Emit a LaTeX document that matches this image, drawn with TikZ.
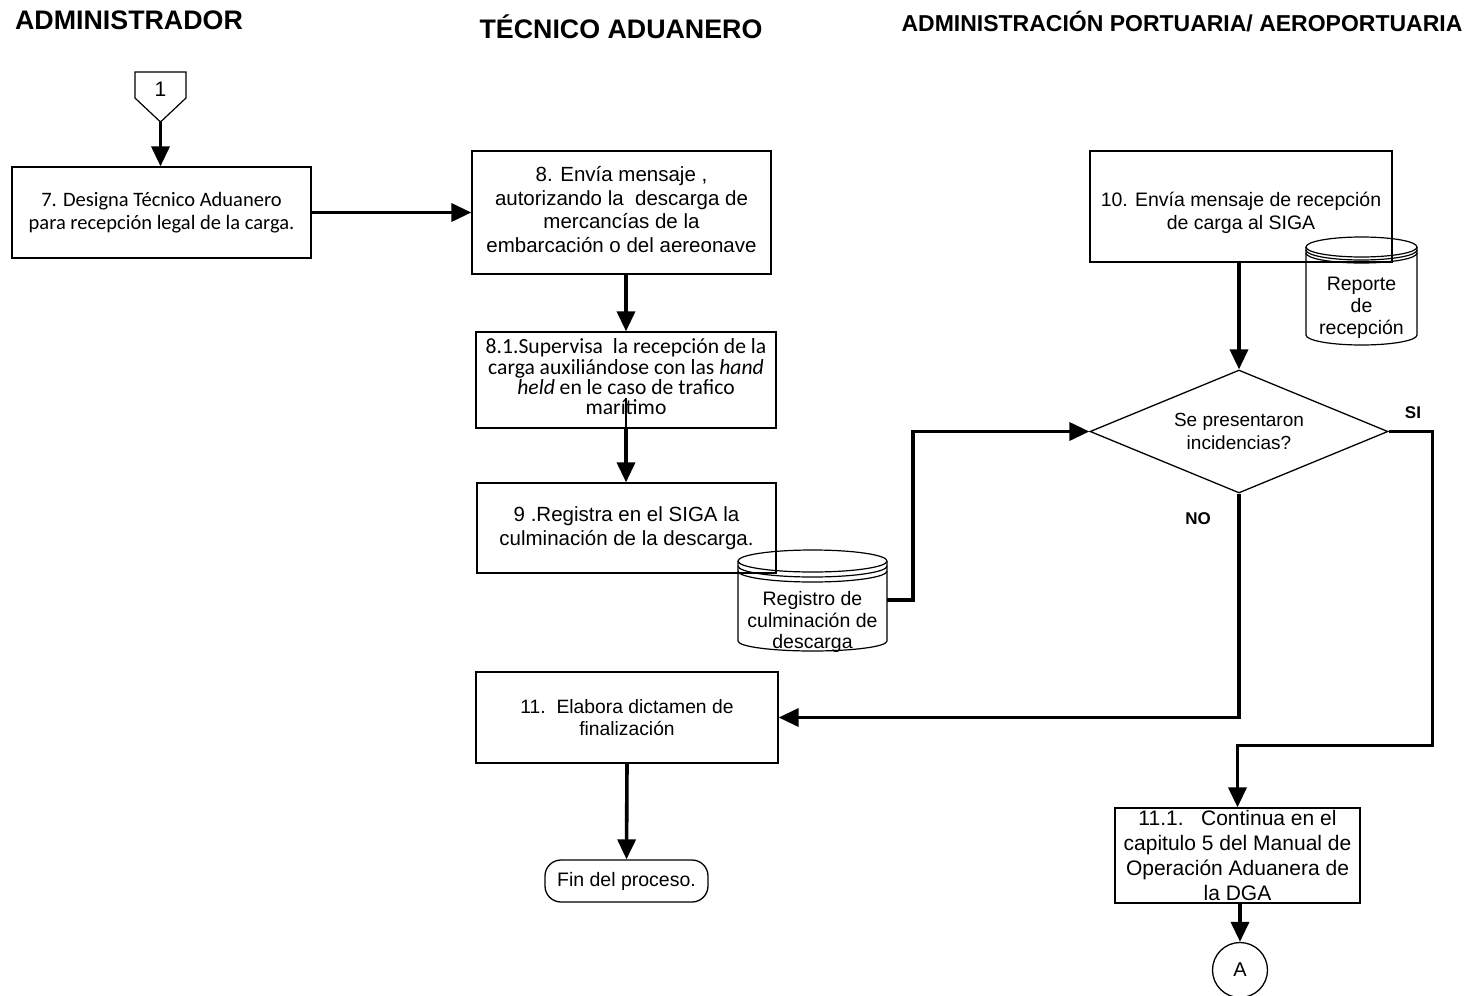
\documentclass[tikz,border=0pt]{standalone}
\usepackage{fontspec}
\setmainfont{Liberation Sans}
\newfontfamily\calib{Carlito}
\usetikzlibrary{arrows.meta,shapes.geometric,calc}
\begin{document}
\begin{tikzpicture}[x=1pt,y=-1pt,
  box/.style={draw,line width=1.3pt,inner sep=0pt,align=center},
  flow/.style={line width=3.6pt,-{Triangle[length=20pt,width=18pt]}},
  fline/.style={line width=3.6pt},
  thinl/.style={line width=1.2pt},
  arf/.style={font=\fontsize{20.5}{23.5}\selectfont},
  cbf/.style={font=\calib\fontsize{20.5}{23.5}\selectfont},
  hdr/.style={font=\bfseries\fontsize{26.8}{30}\selectfont,inner sep=0pt},
  lbl/.style={font=\bfseries\fontsize{17}{20}\selectfont,inner sep=0pt},
  cyltext/.style={inner sep=0pt,align=center,font=\fontsize{19.5}{21.8}\selectfont}
]
\useasboundingbox (0,0) rectangle (1470,996);

% headers
\node[hdr] (h1) at (129,20) {ADMINISTRADOR};
\node[hdr] (h2) at (621,27) {TÉCNICO ADUANERO};
\node[hdr,font=\bfseries\fontsize{23}{26}\selectfont] (h3) at (1182,22) {ADMINISTRACIÓN PORTUARIA/ AEROPORTUARIA};

% off-page connector 1
\draw[thinl] (135,72) -- (186,72) -- (186,98) -- (160.5,122) -- (135,98) -- cycle;
\node[inner sep=0pt,font=\fontsize{21}{24}\selectfont] (c1) at (160.5,89) {1};
\coordinate (c1tip) at (160.5,122);

% boxes
\node[box,cbf,minimum width=299pt,minimum height=91pt] (b7) at (161.5,212.5)
  {\rule{0pt}{6pt}7. Designa Técnico Aduanero\\para recepción legal de la carga.};
\node[box,arf,minimum width=299pt,minimum height=123pt] (b8) at (621.5,212.5)
  {8. Envía mensaje ,\\autorizando la\ \ descarga de\\mercancías de la\\embarcación o del aereonave\\[-17pt]};
\node[box,minimum width=300pt,minimum height=96pt,font=\calib\fontsize{21.6}{20.3}\selectfont] (b81) at (626,380)
  {8.1.Supervisa\ \ la recepción de la\\carga auxiliándose con las \textit{hand}\\\textit{held} en le caso de trafico\\marítimo\\[-14pt]};
\node[box,arf,minimum width=299pt,minimum height=90pt] (b9) at (626.5,528)
  {\rule{0pt}{4pt}9 .Registra en el SIGA la\\culminación de la descarga.};
\node[box,minimum width=302pt,minimum height=111pt] (b10) at (1241,206.5) {};
\node[inner sep=0pt,align=center,font=\fontsize{19.5}{23}\selectfont] (t10) at (1241,212.5)
  {10. Envía mensaje de recepción\\de carga al SIGA};
\node[box,minimum width=302pt,minimum height=91pt,font=\fontsize{19.3}{22.5}\selectfont] (b11) at (627,717.5)
  {11.\ \ Elabora dictamen de\\finalización};
\node[box,minimum width=245pt,minimum height=95pt,font=\fontsize{21}{25}\selectfont] (b111) at (1237.5,855.5)
  {11.1.\ \ \ Continua en el\\capitulo 5 del Manual de\\Operación Aduanera de\\la DGA};

% decision
\node[draw,line width=1.3pt,diamond,aspect=2.42,inner sep=0pt,minimum width=298pt,minimum height=123pt,align=center,font=\fontsize{19}{23}\selectfont] (dia) at (1239,431.5)
  {Se presentaron\\incidencias?};

% terminal
\node[draw,line width=1.3pt,rounded corners=16pt,minimum width=163pt,minimum height=42pt,inner sep=0pt,font=\fontsize{19.5}{23}\selectfont] (fin) at (626.5,881) {Fin del proceso.};

% connector A
\node[draw,line width=1.3pt,circle,minimum size=55pt,inner sep=0pt,font=\fontsize{20}{24}\selectfont] (cA) at (1240,970) {A};

% cylinder: Registro de culminacion de descarga
\node[cyltext,minimum width=149pt] (reg) at (812.5,622) {Registro de\\culminación de\\descarga};
\draw[thinl] (812.5,561) ellipse [x radius=74.5, y radius=11];
\draw[thinl] (738,566) arc[start angle=180,end angle=0,x radius=74.5,y radius=11];
\draw[thinl] (738,571) arc[start angle=180,end angle=0,x radius=74.5,y radius=11];
\draw[thinl] (738,561) -- (738,641) arc[start angle=180,end angle=0,x radius=74.5,y radius=10] -- (887,561);

% cylinder: Reporte de recepcion
\node[cyltext,minimum width=111pt] (rep) at (1361.5,308) {Reporte\\de\\recepción};
\draw[thinl] (1361.5,247) ellipse [x radius=55.5, y radius=10];
\draw[thinl] (1306,250) arc[start angle=180,end angle=0,x radius=55.5,y radius=10];
\draw[thinl] (1306,253) arc[start angle=180,end angle=0,x radius=55.5,y radius=10];
\draw[thinl] (1306,247) -- (1306,335) arc[start angle=180,end angle=0,x radius=55.5,y radius=10] -- (1417,247);

% connectors
\draw[flow] (c1tip) -- (c1tip |- b7.north);
\draw[flow] (b7.east) -- (b8.west);
\draw[flow] (b8.south -| b81) -- (b81.north);
\draw[thinl] ([yshift=31pt]b81.south) -- (b81.south);
\draw[flow] (b81.south) -- (b9.north -| b81);
\draw[flow] ([yshift=22pt]reg.east) -- ++(26,0) |- (dia.west);
\draw[flow] (b10.south -| dia) -- (dia.north);
\draw[flow] (dia.south) |- (b11.east);
\draw[flow] (dia.east) -- ++(44,0) -- ++(0,314) -| (b111.north);
\draw[flow] (b11.south) -- (fin.north);
\draw[flow] (b111.south -| cA) -- (cA.north);

% labels
\node[lbl] (si) at (1413,413) {SI};
\node[lbl] (no) at (1198,519) {NO};
\end{tikzpicture}
\end{document}
